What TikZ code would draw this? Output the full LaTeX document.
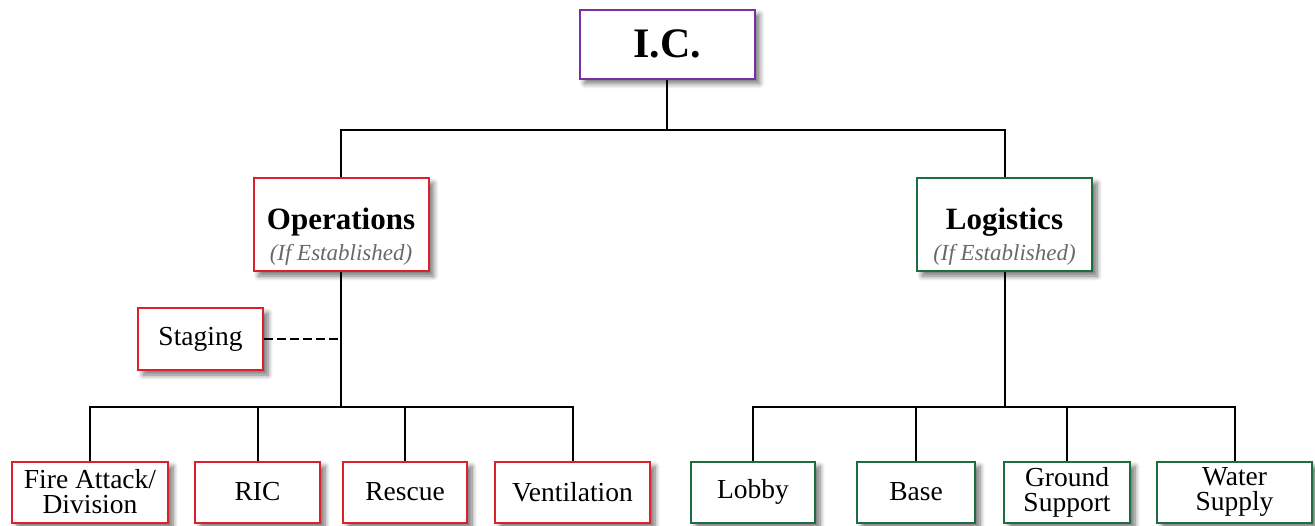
\documentclass[tikz,border=0pt]{standalone}
\usepackage{fontspec}
\setmainfont{Liberation Serif}
\usetikzlibrary{positioning, shadows.blur}

\definecolor{icpurple}{RGB}{122,48,160}
\definecolor{opsred}{RGB}{220,32,44}
\definecolor{loggreen}{RGB}{28,110,62}
\definecolor{notegray}{RGB}{105,105,105}

\tikzset{
  box/.style={draw, line width=2pt, fill=white, inner sep=0pt, align=center,
    font=\fontsize{27.5}{25}\selectfont,
    blur shadow={shadow xshift=5pt, shadow yshift=-5pt, shadow blur radius=5pt, shadow blur steps=8, shadow opacity=55}},
  opsbox/.style={box, draw=opsred},
  logbox/.style={box, draw=loggreen},
  headbox/.style={minimum width=175pt, minimum height=93pt, text depth=6pt},
  link/.style={line width=2pt},
  staglink/.style={link, dash pattern=on 9pt off 4pt}
}
\newcommand{\ifestab}{{\fontsize{23}{24}\selectfont\itshape\color{notegray}(If Established)}}
\newcommand{\headstrut}{\rule{0pt}{46pt}}

\begin{document}
\begin{tikzpicture}[x=1pt, y=-1pt]
  \useasboundingbox (0,0) rectangle (1315,525);

  % top level
  \node[box, draw=icpurple, minimum width=175pt, minimum height=69pt, font=\fontsize{42}{44}\selectfont\bfseries] (ic) at (667,44) {I.C.};

  % sections
  \node[opsbox, headbox] (ops) at (341,224.5)
    {\headstrut{\fontsize{31}{30}\selectfont\bfseries Operations}\\[6pt]\ifestab};
  \node[logbox, headbox] (log) at (1004.5,224.5)
    {\headstrut{\fontsize{31}{30}\selectfont\bfseries Logistics}\\[6pt]\ifestab};

  \node[opsbox, minimum width=125pt, minimum height=62pt] (staging) at (200.5,339) {Staging};

  % operations units
  \node[opsbox, minimum width=156pt, minimum height=61pt] (fire) at (90,492) {Fire Attack/\\Division};
  \node[opsbox, minimum width=125pt, minimum height=61pt] (ric) at (257.5,492) {RIC};
  \node[opsbox, minimum width=124pt, minimum height=61pt] (rescue) at (405,492) {Rescue};
  \node[opsbox, minimum width=155pt, minimum height=61pt] (vent) at (572.5,492) {Ventilation};

  % logistics units
  \node[logbox, minimum width=124pt, minimum height=61pt] (lobby) at (753,492) {Lobby};
  \node[logbox, minimum width=118pt, minimum height=61pt] (base) at (916,492) {Base};
  \node[logbox, minimum width=126pt, minimum height=61pt] (ground) at (1067,492) {Ground\\Support};
  \node[logbox, minimum width=155pt, minimum height=61pt] (water) at (1234.5,492) {Water\\Supply};

  % connectors
  \coordinate (icbar) at (667,130);
  \coordinate (opsbar) at (341,407);
  \coordinate (logbar) at (1004.5,407);

  \draw[link] (ic) -- (icbar);
  \draw[link] (ops.north) |- (icbar) -| (log.north);

  \draw[link] (ops.south) -- (opsbar);
  \draw[link] (fire.north) |- (opsbar) -| (vent.north);
  \foreach \unit in {ric, rescue}
    \draw[link] (\unit.north) -- (\unit.north |- opsbar);
  \draw[staglink] (staging.east) -- (staging.east -| opsbar);

  \draw[link] (log.south) -- (logbar);
  \draw[link] (lobby.north) |- (logbar) -| (water.north);
  \foreach \unit in {base, ground}
    \draw[link] (\unit.north) -- (\unit.north |- logbar);
\end{tikzpicture}
\end{document}
